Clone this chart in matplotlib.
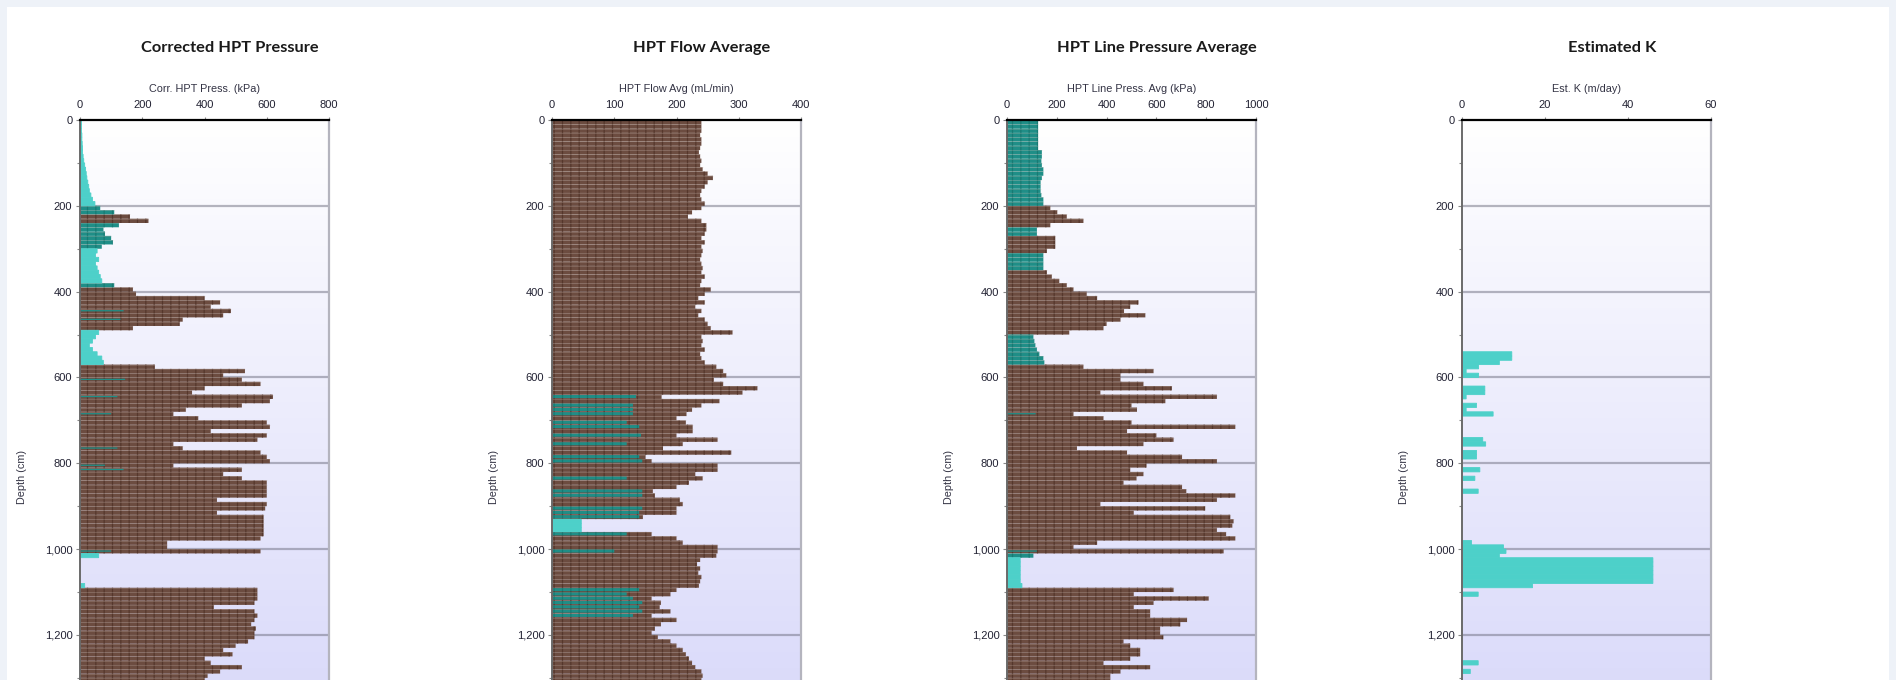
import matplotlib
matplotlib.use("Agg")
import matplotlib.pyplot as plt
from matplotlib.patches import Rectangle
from matplotlib.ticker import MultipleLocator, FuncFormatter
import numpy as np

# depth of each sample (top of a 10 cm interval)
depth = list(range(0, 1310, 10))

# Corrected HPT pressure (kPa)
corr_press = [
    5, 5, 5, 6, 6, 7, 8, 8, 10, 12,
    15, 18, 20, 22, 25, 28, 30, 35, 40, 48,
    65, 110, 160, 220, 125, 75, 80, 100, 105, 70,
    55, 50, 60, 50, 55, 60, 65, 70, 110, 170,
    180, 400, 450, 420, 485, 460, 330, 320, 170, 60,
    50, 40, 30, 40, 55, 70, 75, 240, 530, 460,
    520, 580, 400, 360, 620, 610, 520, 340, 300, 380,
    600, 610, 420, 600, 570, 300, 330, 580, 600, 610,
    300, 520, 460, 520, 600, 600, 600, 600, 440, 600,
    595, 440, 590, 590, 590, 590, 590, 580, 280, 280,
    580, 60, 0, 0, 0, 0, 0, 0, 15, 570,
    570, 570, 560, 430, 560, 570, 560, 550, 565, 560,
    560, 540, 500, 460, 490, 400, 420, 520, 450, 410,
    400,
]
corr_class = ("qqqqqqqqqq" "qqqqqqqqqq" "ttbbtttttt" "qqqqqqqqtb" "bbbbbbbbbq"
              "qqqqqqqbbb" "bbbbbbbbbb" "bbbbbbbbbb" "bbbbbbbbbb" "bbbbbbbbbb"
              "bqqqqqqqqb" "bbbbbbbbbb" "bbbbbbbbbb" "b")
corr_teal_depth = [440, 460, 600, 640, 680, 760, 800, 810, 1000]
corr_teal_val = [140, 130, 145, 120, 100, 120, 80, 140, 100]

# HPT flow average (mL/min)
flow_avg = [
    240, 240, 240, 238, 240, 240, 238, 236, 238, 240,
    238, 242, 250, 258, 250, 245, 240, 238, 240, 245,
    240, 225, 218, 240, 248, 248, 245, 240, 245, 240,
    242, 240, 238, 240, 242, 240, 245, 240, 238, 255,
    245, 235, 245, 230, 240, 235, 245, 250, 255, 290,
    240, 242, 240, 245, 238, 240, 245, 264, 275, 280,
    260, 275, 330, 306, 176, 269, 240, 225, 216, 200,
    215, 226, 226, 200, 266, 210, 178, 288, 150, 160,
    266, 266, 230, 242, 220, 200, 162, 165, 205, 210,
    200, 200, 146, 47, 47, 47, 160, 200, 210, 266,
    266, 264, 238, 233, 238, 235, 240, 238, 236, 200,
    190, 160, 175, 173, 190, 160, 200, 175, 165, 160,
    170, 190, 200, 210, 215, 220, 225, 230, 240, 242,
    240,
]
flow_class = ("bbbbbbbbbb" "bbbbbbbbbb" "bbbbbbbbbb" "bbbbbbbbbb" "bbbbbbbbbb"
              "bbbbbbbbbb" "bbbbbbbbbb" "bbbbbbbbbb" "bbbbbbbbbb" "bbbqqqbbbb"
              "bbbbbbbbbb" "bbbbbbbbbb" "bbbbbbbbbb" "b")
flow_teal = [
    0, 0, 0, 0, 0, 0, 0, 0, 0, 0,
    0, 0, 0, 0, 0, 0, 0, 0, 0, 0,
    0, 0, 0, 0, 0, 0, 0, 0, 0, 0,
    0, 0, 0, 0, 0, 0, 0, 0, 0, 0,
    0, 0, 0, 0, 0, 0, 0, 0, 0, 0,
    0, 0, 0, 0, 0, 0, 0, 0, 0, 0,
    0, 0, 0, 0, 135, 0, 130, 130, 130, 0,
    120, 140, 0, 143, 0, 120, 0, 0, 140, 145,
    0, 0, 0, 120, 0, 0, 145, 145, 0, 0,
    145, 140, 140, 0, 0, 0, 120, 0, 0, 0,
    100, 0, 0, 0, 0, 0, 0, 0, 0, 140,
    120, 130, 145, 140, 145, 130, 0, 0, 0, 0,
    0, 0, 0, 0, 0, 0, 0, 0, 0, 0,
    0,
]

# HPT line pressure average (kPa)
line_press = [
    125, 125, 125, 125, 125, 125, 125, 140, 140, 138,
    140, 146, 146, 140, 135, 135, 135, 138, 146, 146,
    174, 202, 240, 307, 174, 120, 120, 194, 194, 194,
    160, 146, 146, 146, 146, 160, 180, 210, 240, 267,
    320, 362, 528, 495, 470, 555, 455, 400, 387, 250,
    106, 110, 114, 120, 130, 146, 150, 307, 588, 455,
    455, 548, 662, 375, 843, 636, 500, 522, 267, 387,
    500, 917, 482, 600, 669, 548, 281, 482, 703, 843,
    560, 495, 548, 520, 468, 703, 720, 917, 843, 375,
    796, 509, 897, 910, 905, 843, 880, 917, 362, 267,
    870, 106, 53, 53, 53, 53, 53, 53, 60, 669,
    509, 810, 588, 509, 575, 575, 723, 696, 615, 615,
    628, 468, 495, 535, 535, 495, 387, 575, 455, 415,
    415,
]
line_class = ("tttttttttt" "tttttttttt" "bbbbbttbbb" "bttttbbbbb" "bbbbbbbbbb"
              "tttttttbbb" "bbbbbbbbbb" "bbbbbbbbbb" "bbbbbbbbbb" "bbbbbbbbbb"
              "btqqqqqqqb" "bbbbbbbbbb" "bbbbbbbbbb" "b")
line_teal_depth = [680, 1000]
line_teal_val = [115, 120]

# Estimated K (m/day)
est_k = [
    0, 0, 0, 0, 0, 0, 0, 0, 0, 0,
    0, 0, 0, 0, 0, 0, 0, 0, 0, 0,
    0, 0, 0, 0, 0, 0, 0, 0, 0, 0,
    0, 0, 0, 0, 0, 0, 0, 0, 0, 0,
    0, 0, 0, 0, 0, 0, 0, 0, 0, 0,
    0, 0, 0, 0, 12, 12, 9, 4, 1, 4,
    0, 0, 5.5, 5.5, 1, 0, 3.5, 1, 7.5, 0,
    0, 0, 0, 0, 5, 5.7, 0, 3.5, 3.5, 0,
    0, 4.3, 0, 3.1, 0, 0, 3.9, 0, 0, 0,
    0, 0, 0, 0, 0, 0, 0, 0, 2.3, 10,
    10.6, 9, 46, 46, 46, 46, 46, 46, 17, 0,
    3.9, 0, 0, 0, 0, 0, 0, 0, 0, 0,
    0, 0, 0, 0, 0, 0, 3.9, 0, 2, 0,
    0,
]
k_class = "q" * len(est_k)

titles = ["Corrected HPT Pressure", "HPT Flow Average", "HPT Line Pressure Average", "Estimated K"]
xlabels = ["Corr. HPT Press. (kPa)", "HPT Flow Avg (mL/min)", "HPT Line Press. Avg (kPa)", "Est. K (m/day)"]
xmax = [800, 400, 1000, 60]
xstep = [200, 100, 200, 20]

BROWN = "#6c4c40"
TEAL = "#1f8e87"
TURQ = "#4dd0c9"
styles = {
    "b": dict(color=BROWN, edgecolor="#55372c", hatch="||", lw=0),
    "t": dict(color=TEAL, edgecolor="#187a73", hatch="||", lw=0),
    "q": dict(color=TURQ, edgecolor=TURQ, hatch=None, lw=0.6),
}

plt.rcParams["hatch.linewidth"] = 0.9
plt.rcParams["font.family"] = ["Liberation Sans", "DejaVu Sans"]

W, H = 1896, 680
fig = plt.figure(figsize=(W / 100, H / 100), dpi=100)
fig.patch.set_facecolor("#eef2f8")
fig.add_artist(Rectangle((7 / W, 0), 1882 / W, 673 / H, transform=fig.transFigure,
                         facecolor="white", edgecolor="none", zorder=-10))

lefts = [80, 552, 1007, 1462]
ax_top = 120
ybot = 1305
d = np.array(depth, float)

tracks = [
    (corr_press, corr_class, None, (corr_teal_depth, corr_teal_val)),
    (flow_avg, flow_class, flow_teal, None),
    (line_press, line_class, None, (line_teal_depth, line_teal_val)),
    (est_k, k_class, None, None),
]

grad = np.linspace(0, 1, 256).reshape(-1, 1)
top_c = np.array([1.0, 1.0, 1.0])
bot_c = np.array([0.86, 0.86, 0.98])
grad_img = top_c + grad[..., None] * (bot_c - top_c)

for i, (vals, cls, over, sparse) in enumerate(tracks):
    L = lefts[i]
    ax = fig.add_axes([L / W, 0, 249 / W, (H - ax_top) / H])
    ax.imshow(grad_img, extent=[0, xmax[i], ybot, 0], aspect="auto", zorder=0)
    ax.set_xlim(0, xmax[i])
    ax.set_ylim(ybot, 0)

    for gy in range(200, 1300, 200):
        ax.axhline(gy, color="#6e6e80", alpha=0.5, lw=1.6, zorder=1)

    v = np.array(vals, float)
    c = np.array(list(cls))
    for key, st in styles.items():
        m = (c == key) & (v > 0)
        if not m.any():
            continue
        ax.barh(d[m], v[m], height=10, align="edge", color=st["color"],
                edgecolor=st["edgecolor"], hatch=st["hatch"], linewidth=st["lw"],
                snap=False, zorder=2)
    # faint separators between samples
    seg_m = (v > 0) & (c != "q")
    ax.hlines(d[seg_m], 0, v[seg_m], color="#c8b8b0", lw=0.5, alpha=0.35, zorder=2.5)
    if over is not None:
        o = np.array(over, float)
        m = o > 0
        ax.barh(d[m] + 1, o[m], height=7, align="edge", color=TEAL,
                edgecolor="#187a73", hatch="||", linewidth=0, snap=False, zorder=3)
    if sparse is not None:
        ax.barh(np.array(sparse[0]) + 3, sparse[1], height=3, align="edge",
                color=TEAL, linewidth=0, snap=False, zorder=3)

    ax.spines["bottom"].set_visible(False)
    ax.spines["top"].set_color("black")
    ax.spines["top"].set_linewidth(1.6)
    ax.spines["right"].set_color("#b4b4be")
    ax.spines["right"].set_linewidth(1.6)
    ax.spines["left"].set_color("#6a6a6a")
    ax.spines["left"].set_linewidth(1.4)
    for s in ax.spines.values():
        s.set_zorder(5)

    ax.xaxis.tick_top()
    ax.xaxis.set_major_locator(MultipleLocator(xstep[i]))
    ax.yaxis.set_major_locator(MultipleLocator(200))
    ax.yaxis.set_minor_locator(MultipleLocator(100))
    ax.yaxis.set_major_formatter(FuncFormatter(lambda y, p: f"{int(y):,}"))
    ax.tick_params(axis="x", which="both", length=2.5, width=0.8, color="#888888",
                   pad=4.5, labelsize=8, labelcolor="#222233")
    ax.tick_params(axis="y", which="major", length=3, width=0.8, color="#888888",
                   pad=2.5, labelsize=8, labelcolor="#222233")
    ax.tick_params(axis="y", which="minor", length=2.5, width=0.8, color="#888888")

    fig.text((L + 124.5) / W, 1 - 89 / H, xlabels[i], ha="center", va="center",
             fontsize=7.8, color="#333344")
    fig.text((L + 150) / W, 1 - 48 / H, titles[i], ha="center", va="center",
             fontsize=11.8, fontweight="bold", color="#1a1a1a", family=["Lato", "DejaVu Sans"])
    fig.text((L - 58) / W, 1 - 477 / H, "Depth (cm)", ha="center", va="center",
             rotation=90, fontsize=7.8, color="#333344")

fig.savefig("out.png", dpi=100)
